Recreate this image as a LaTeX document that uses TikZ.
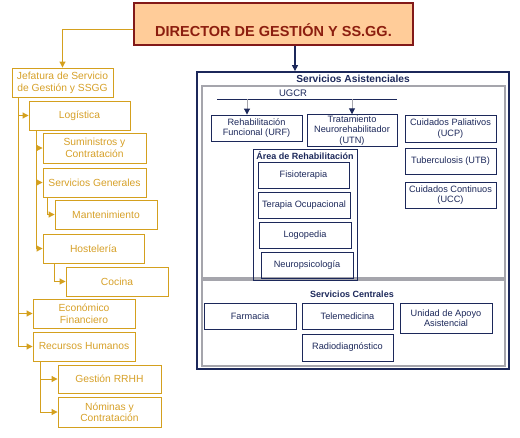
\documentclass[tikz,border=0pt]{standalone}
\usepackage{fontspec}
\setmainfont{Liberation Sans}
\usetikzlibrary{arrows.meta,positioning,calc}
\definecolor{gold}{RGB}{212,160,30}
\definecolor{goldtxt}{RGB}{214,160,40}
\definecolor{navy}{RGB}{28,40,90}
\definecolor{grayline}{RGB}{165,165,172}
\definecolor{dirfill}{RGB}{255,204,153}
\definecolor{dirline}{RGB}{130,25,25}
\definecolor{dirtxt}{RGB}{140,30,15}

\begin{document}
\begin{tikzpicture}[x=1pt,y=-1pt,
   gbox/.style={draw=gold,line width=0.9pt,text=goldtxt,minimum width=101pt,minimum height=29pt,
                inner sep=1pt,align=center,font=\fontsize{10.3}{12}\selectfont},
   nbox/.style={draw=navy,line width=0.9pt,text=navy,minimum width=91pt,minimum height=26pt,
                inner sep=1pt,align=center,font=\fontsize{9.2}{10.5}\selectfont},
   ntitle/.style={text=navy,inner sep=0pt,font=\bfseries\fontsize{9}{10}\selectfont},
   glink/.style={draw=gold,line width=1pt,-{Triangle[length=6pt,width=6pt]}},
   nlink/.style={draw=navy,line width=1.2pt,-{Triangle[length=6pt,width=6pt]}},
   ulink/.style={draw=grayline,line width=1pt,-{Triangle[length=6pt,width=6pt,color=navy]}}]
 \useasboundingbox (0,0) rectangle (520,437);
 % director
 \node[draw=dirline,fill=dirfill,line width=1.2pt,minimum width=279pt,minimum height=42pt,
       text=dirtxt,text height=25pt,text depth=0pt,font=\bfseries\fontsize{14.5}{16}\selectfont]
       (dir) at (273.5,24) {DIRECTOR DE GESTIÓN Y SS.GG.};
 % gestion branch (explicit coordinates, as in the chart)
 \node[gbox] (jef)   at (62.5,82.5)  {Jefatura de Servicio\\de Gestión y SSGG};
 \node[gbox] (log)   at (79.5,115.5) {Logística};
 \node[gbox,minimum width=103pt,minimum height=30pt] (sum) at (94.5,148) {Suministros y\\Contratación};
 \node[gbox,minimum width=103pt] (sg)    at (94.5,182.5) {Servicios Generales};
 \node[gbox,minimum width=102pt] (mant)  at (106,214.5)  {Mantenimiento};
 \node[gbox] (host)  at (93.5,248.5) {Hostelería};
 \node[gbox,minimum width=102pt] (coc)   at (117,281.5)  {Cocina};
 \node[gbox,minimum width=102pt] (eco)   at (84,313.5)   {Económico\\Financiero};
 \node[gbox,minimum width=102pt] (rrhh)  at (84,346.5)   {Recursos Humanos};
 \node[gbox,minimum width=103pt,minimum height=28pt] (grrhh) at (109.5,379) {Gestión RRHH};
 \node[gbox,minimum width=103pt,minimum height=30pt,font=\fontsize{10.3}{9.5}\selectfont]
       (nom) at (109.5,412) {Nóminas y\\Contratación};
 % gold wires
 \draw[glink] ([yshift=-5pt]dir.west) -| (jef.north);
 \coordinate (jspine) at ([xshift=7pt]jef.south west);
 \draw[glink] (jspine) |- (log.west);
 \draw[glink] (jspine) |- (eco.west);
 \draw[glink] (jspine) |- (rrhh.west);
 \coordinate (lspine) at ([xshift=8pt]log.south west);
 \draw[glink] (lspine) |- (sum.west);
 \draw[glink] (lspine) |- (sg.west);
 \draw[glink] (lspine) |- (host.west);
 \draw[glink] ([xshift=5pt]sg.south west) |- (mant.west);
 \draw[glink] ([xshift=12pt]host.south west) |- (coc.west);
 \coordinate (rspine) at ([xshift=8pt]rrhh.south west);
 \draw[glink] (rspine) |- (grrhh.west);
 \draw[glink] (rspine) |- (nom.west);
 % servicios asistenciales frame
 \node[draw=navy,line width=1.8pt,minimum width=312pt,minimum height=297pt] (sa) at (353,220.5) {};
 \node[ntitle,font=\bfseries\fontsize{10.2}{11}\selectfont] (satitle) at (353,79) {Servicios Asistenciales};
 \node[draw=grayline,line width=1.1pt,minimum width=303pt,minimum height=192pt] (upper) at (353.5,182) {};
 \node[draw=grayline,line width=1.1pt,minimum width=303pt,minimum height=86pt] (lower) at (353.5,323) {};
 \draw[nlink] ([xshift=21.5pt]dir.south) -- ([xshift=21.5pt]dir.south |- sa.north);
 % UGCR
 \node[text=navy,inner sep=0pt,font=\fontsize{9.5}{10}\selectfont] (ugcr) at (293,93) {UGCR};
 \coordinate (ugL) at (217,99);
 \coordinate (ugR) at (397,99);
 \coordinate (ugA) at (247,99);
 \coordinate (ugB) at (352,99);
 \draw[navy,line width=1pt] (ugL) -- (ugR);
 \node[nbox] (urf) at (256.5,128) {Rehabilitación\\Funcional (URF)};
 \node[nbox,minimum width=90pt,minimum height=31pt] (utn) at (352,130.5) {Tratamiento\\Neurorehabilitador\\(UTN)};
 \draw[ulink] (ugA) -- (ugA |- urf.north);
 \draw[ulink] (ugB) -- (ugB |- utn.north);
 \node[nbox,minimum height=27pt] (ucp) at (450.5,128.5) {Cuidados Paliativos\\(UCP)};
 \node[nbox] (utb) at (450.5,161) {Tuberculosis (UTB)};
 \node[nbox] (ucc) at (450.5,195) {Cuidados Continuos\\(UCC)};
 % area de rehabilitacion
 \node[draw=navy,line width=0.9pt,minimum width=104pt,minimum height=131pt] (area) at (305,214.5) {};
 \node[ntitle] (areatitle) at (305,155.5) {Área de Rehabilitación};
 \node[nbox] (fis)  at (303.5,175) {Fisioterapia};
 \node[nbox,minimum width=92pt] (toc) at (304,205) {Terapia Ocupacional};
 \node[nbox,minimum width=92pt] (logo) at (305,235) {Logopedia};
 \node[nbox,minimum width=92pt] (neu) at (307,265) {Neuropsicología};
 % servicios centrales
 \node[ntitle] (sctitle) at (352,294) {Servicios Centrales};
 \node[nbox,minimum width=92pt] (far) at (250,316) {Farmacia};
 \node[nbox] (tel) at (347.5,316) {Telemedicina};
 \node[nbox,minimum width=92pt,minimum height=30pt] (uaa) at (446,318) {Unidad de Apoyo\\Asistencial};
 \node[nbox,minimum height=27pt] (rad) at (347.5,347.5) {Radiodiagnóstico};
\end{tikzpicture}
\end{document}
